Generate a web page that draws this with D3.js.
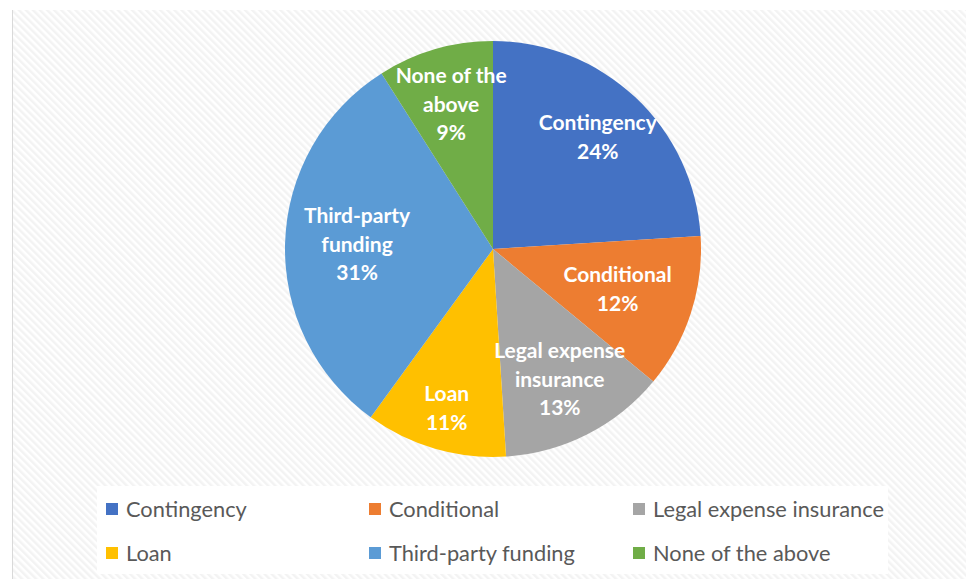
<!DOCTYPE html>
<html>
<head>
<meta charset="utf-8">
<script src="https://cdnjs.cloudflare.com/ajax/libs/d3/7.8.5/d3.min.js"></script>
<style>
  body { margin: 0; background: #fff; }
  svg { display: block; }
</style>
</head>
<body>
<svg id="chart"></svg>
<script>
// data
var categories = ["Contingency", "Conditional", "Legal expense insurance", "Loan", "Third-party funding", "None of the above"];
var values = [24, 12, 13, 11, 31, 9];
var labelLines = [["Contingency"], ["Conditional"], ["Legal expense", "insurance"], ["Loan"], ["Third-party", "funding"], ["None of the", "above"]];
var colors = ["#4472C4", "#ED7D31", "#A5A5A5", "#FFC000", "#5B9BD5", "#70AD47"];

var width = 966, height = 579;
var cx = 493, cy = 249, radius = 208;
// label distance from centre, as excel's best fit placed them
var labelRadii = [153, 131, 147, 166, 136, 150];

var svg = d3.select("#chart")
    .attr("width", width)
    .attr("height", height);

// hatched chart background
var defs = svg.append("defs");
var pat = defs.append("pattern")
    .attr("id", "hatch")
    .attr("patternUnits", "userSpaceOnUse")
    .attr("width", 5)
    .attr("height", 5)
    .attr("patternTransform", "rotate(-45)");
pat.append("rect").attr("width", 5).attr("height", 5).attr("fill", "#ffffff");
pat.append("rect").attr("width", 2.5).attr("height", 5).attr("fill", "#f3f3f3");

svg.append("rect")
    .attr("x", 12).attr("y", 10)
    .attr("width", width - 12).attr("height", height - 10)
    .attr("fill", "url(#hatch)");
svg.append("line")
    .attr("x1", 12.5).attr("x2", 12.5)
    .attr("y1", 10).attr("y2", height)
    .attr("stroke", "#d9d9d9");

// pie
var pie = d3.pie().sort(null).value(function(d) { return d; });
var arc = d3.arc().innerRadius(0).outerRadius(radius);
var arcs = pie(values);

var g = svg.append("g").attr("transform", "translate(" + cx + "," + cy + ")");

g.selectAll("path")
    .data(arcs)
    .enter()
    .append("path")
    .attr("d", arc)
    .attr("fill", function(d, i) { return colors[i]; });

var lineH = 28.5;
var labels = g.selectAll("text.lbl")
    .data(arcs)
    .enter()
    .append("text")
    .attr("class", "lbl")
    .attr("text-anchor", "middle")
    .attr("fill", "#ffffff")
    .style("font-family", "Lato, 'Open Sans', sans-serif")
    .style("font-weight", "bold")
    .style("font-size", "21px")
    .attr("transform", function(d, i) {
        var r = labelRadii[i];
        var c = d3.arc().innerRadius(r).outerRadius(r).centroid(d);
        return "translate(" + c[0] + "," + c[1] + ")";
    });

labels.each(function(d, i) {
    var lines = labelLines[i].concat([values[i] + "%"]);
    var t = d3.select(this);
    var y0 = -(lines.length - 1) * lineH / 2 + 7;
    lines.forEach(function(s, k) {
        t.append("tspan").attr("x", 0).attr("y", y0 + k * lineH).text(s);
    });
});

// legend
svg.append("rect")
    .attr("x", 97).attr("y", 486)
    .attr("width", 791).attr("height", 88)
    .attr("fill", "#ffffff");

var colX = d3.scaleOrdinal().domain([0, 1, 2]).range([106, 369, 633]);
var rowY = d3.scaleOrdinal().domain([0, 1]).range([509, 553]);

var leg = svg.selectAll("g.leg")
    .data(categories)
    .enter()
    .append("g")
    .attr("class", "leg")
    .attr("transform", function(d, i) {
        return "translate(" + colX(i % 3) + "," + rowY(Math.floor(i / 3)) + ")";
    });

leg.append("rect")
    .attr("x", 0).attr("y", -6)
    .attr("width", 12).attr("height", 12)
    .attr("fill", function(d, i) { return colors[i]; });

leg.append("text")
    .attr("x", 20)
    .attr("y", 7.5)
    .attr("fill", "#595959")
    .style("font-family", "Lato, 'Open Sans', sans-serif")
    .style("font-size", "21.8px")
    .text(function(d) { return d; });
</script>
</body>
</html>
